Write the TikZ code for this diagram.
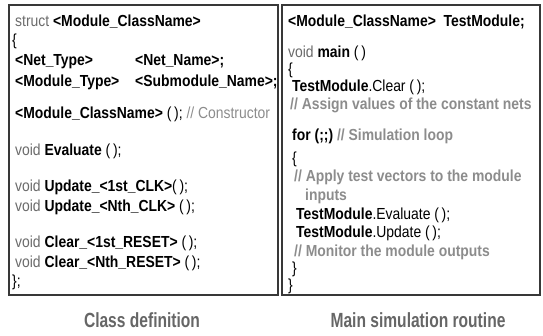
\documentclass[tikz,border=0pt]{standalone}
\usepackage{fontspec}
\setmainfont{Liberation Sans}[FakeStretch=0.87]
\newfontfamily\capfont{Liberation Sans}[FakeStretch=0.76]
\definecolor{kwgray}{gray}{0.42}
\definecolor{comgray}{gray}{0.55}
\definecolor{capgray}{gray}{0.40}
\definecolor{framegray}{gray}{0.22}
\newcommand\kw[1]{\textcolor{kwgray}{#1}}
\newcommand\cmt[1]{\textcolor{comgray}{#1}}
\newcommand\bcmt[1]{\textcolor{comgray}{\bfseries #1}}
\tikzset{
  codebox/.style={draw=framegray, line width=1.2pt},
  codeline/.style={anchor=base west, inner sep=0pt, font=\fontsize{16}{19}\selectfont},
  caption/.style={anchor=base, inner sep=0pt, text=capgray, font=\capfont\bfseries\fontsize{20.5}{24}\selectfont}
}
\begin{document}
\begin{tikzpicture}[x=1pt, y=-1pt]
  \useasboundingbox (0,0) rectangle (543,336);
  % frames
  \draw[codebox] (9,5) rectangle (278,295);
  \draw[codebox] (282,5) rectangle (540,295);
  \node[inner sep=0pt] (boxA) at (143.5,150) {};
  \node[inner sep=0pt] (boxB) at (411,150) {};

  % class definition
  \node[codeline] (l1)  at (15,27)  {\kw{struct} \textbf{<Module\_ClassName>}};
  \node[codeline] (l2)  at (12,46)  {\{};
  \node[codeline] (l3a) at (15,66)  {\textbf{<Net\_Type>}};
  \node[codeline] (l3b) at (135,66) {\textbf{<Net\_Name>;}};
  \node[codeline] (l4a) at (15,87)  {\textbf{<Module\_Type>}};
  \node[codeline] (l4b) at (135,87) {\textbf{<Submodule\_Name>;}};
  \node[codeline] (l5)  at (15,119) {\textbf{<Module\_ClassName>} (\,); \cmt{// Constructor}};
  \node[codeline] (l6)  at (15,156) {\kw{void} \textbf{Evaluate} (\,);};
  \node[codeline] (l7)  at (15,192) {\kw{void} \textbf{Update\_<1st\_CLK>}(\,);};
  \node[codeline] (l8)  at (15,212) {\kw{void} \textbf{Update\_<Nth\_CLK>} (\,);};
  \node[codeline] (l9)  at (15,248) {\kw{void} \textbf{Clear\_<1st\_RESET>} (\,);};
  \node[codeline] (l10) at (15,268) {\kw{void} \textbf{Clear\_<Nth\_RESET>} (\,);};
  \node[codeline] (l11) at (12,287) {\};};

  % main simulation routine
  \node[codeline] (r1)  at (288,27)  {\textbf{<Module\_ClassName>}\ \ \textbf{TestModule;}};
  \node[codeline] (r2)  at (288,58)  {\kw{void} \textbf{main} (\,)};
  \node[codeline] (r3)  at (288,75)  {\{};
  \node[codeline] (r4)  at (292,92)  {\textbf{TestModule}.Clear (\,);};
  \node[codeline] (r5)  at (290,110) {\bcmt{// Assign values of the constant nets}};
  \node[codeline] (r6)  at (292,141) {\textbf{for (;;)} \bcmt{// Simulation loop}};
  \node[codeline] (r7)  at (292,164) {\{};
  \node[codeline] (r8)  at (294,182) {\bcmt{// Apply test vectors to the module}};
  \node[codeline] (r9)  at (305,201) {\bcmt{inputs}};
  \node[codeline] (r10) at (296,220) {\textbf{TestModule}.Evaluate (\,);};
  \node[codeline] (r11) at (296,238) {\textbf{TestModule}.Update (\,);};
  \node[codeline] (r12) at (294,257) {\bcmt{// Monitor the module outputs}};
  \node[codeline] (r13) at (292,274) {\}};
  \node[codeline] (r14) at (288,291) {\}};

  % captions
  \node[caption] (capA) at (142,327) {Class definition};
  \node[caption] (capB) at (418,327) {Main simulation routine};
\end{tikzpicture}
\end{document}
